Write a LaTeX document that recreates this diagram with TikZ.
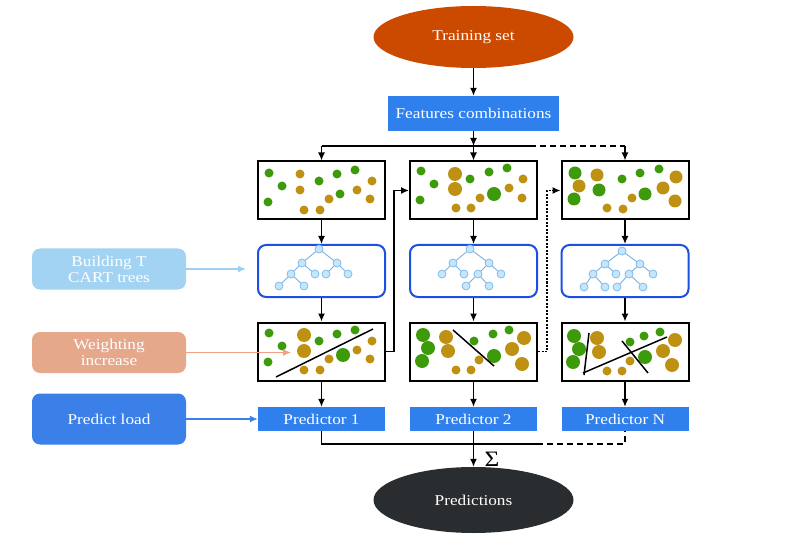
\documentclass[tikz,border=0pt]{standalone}
\usepackage{fontspec}
\setmainfont{Liberation Serif}[FakeStretch=1.15]
\usetikzlibrary{shapes.geometric,arrows.meta,calc}
\definecolor{tsorange}{HTML}{CC4A00}
\definecolor{mblue}{HTML}{2F80ED}
\definecolor{lblue}{HTML}{A3D3F3}
\definecolor{salmon}{HTML}{E6A88A}
\definecolor{darkell}{HTML}{2A2D2F}
\definecolor{treeframe}{HTML}{1E4FE0}
\definecolor{dgreen}{HTML}{3D9B0B}
\definecolor{dbrown}{HTML}{BF9112}
\definecolor{tnodefill}{HTML}{C5E6FC}
\definecolor{tnodeline}{HTML}{80BDEB}
\definecolor{tedge}{HTML}{7FB0E0}
\definecolor{arrlblue}{HTML}{9FD0F2}
\definecolor{arrsalmon}{HTML}{F2A080}
\definecolor{arrblue}{HTML}{3A80E8}
\tikzset{
  txt/.style={font=\fontsize{15}{16}\selectfont, text=white, align=center},
  ell/.style={ellipse, inner sep=0pt, minimum width=200pt, txt},
  bluebox/.style={rectangle, fill=mblue, inner sep=0pt, txt},
  sidebox/.style={rectangle, rounded corners=8pt, inner sep=0pt, minimum width=154pt, minimum height=41pt, txt},
  databox/.style={rectangle, draw=black, line width=2pt, inner sep=0pt, minimum width=127pt, minimum height=58pt},
  treebox/.style={rectangle, draw=treeframe, line width=2pt, rounded corners=8pt, inner sep=0pt, minimum width=127pt, minimum height=52pt},
  predbox/.style={bluebox, minimum width=127pt, minimum height=24pt},
  conn/.style={line width=1.4pt, draw=black},
  arr/.style={conn, -{Latex[length=8pt,width=7pt]}},
  longdash/.style={dash pattern=on 6pt off 4pt},
  shortdot/.style={dash pattern=on 2pt off 1.5pt},
  tedgestyle/.style={draw=tedge, line width=0.9pt},
  tnode/.style={fill=tnodefill, draw=tnodeline, line width=0.8pt},
  splitline/.style={draw=black, line width=1.5pt}
}
\newcommand{\gd}[2][4.5]{\fill[dgreen] #2 circle[radius=#1pt];}
\newcommand{\bd}[2][4.5]{\fill[dbrown] #2 circle[radius=#1pt];}
\newcommand{\tn}[1]{\filldraw[tnode] #1 circle[radius=4pt];}
\begin{document}
\begin{tikzpicture}[x=1pt,y=-1pt]
\useasboundingbox (0,0) rectangle (792,545);
\fill[white] (0,0) rectangle (792,545);

% main nodes
\node[ell, fill=tsorange, minimum height=62pt] (ts) at (473.5,37) {Training set};
\node[bluebox, minimum width=171pt, minimum height=35pt] (feat) at (473.5,113.5) {Features combinations};

\node[databox] (d1) at (321.5,190.5) {};
\node[databox] (d2) at (473.5,190.5) {};
\node[databox] (d3) at (625,190.5) {};

\node[treebox] (t1) at (321.5,271) {};
\node[treebox] (t2) at (473.5,271) {};
\node[treebox] (t3) at (625,271) {};

\node[databox] (w1) at (321.5,351.5) {};
\node[databox] (w2) at (473.5,351.5) {};
\node[databox] (w3) at (625,351.5) {};

\node[predbox] (p1) at (321.5,419) {Predictor 1};
\node[predbox] (p2) at (473.5,419) {Predictor 2};
\node[predbox] (p3) at (625,419) {Predictor N};

\node[ell, fill=darkell, minimum height=66pt] (pred) at (473.5,500) {Predictions};
\node[font=\fontsize{22}{22}\selectfont, inner sep=0pt] (sig) at (492,459) {Σ};

\node[sidebox, fill=lblue] (bt) at (109,269) {Building T\\CART trees};
\node[sidebox, fill=salmon] (wi) at (109,352.5) {Weighting\\increase};
\node[sidebox, fill=arrblue, minimum height=51pt] (pl) at (109,419) {Predict load};

% dots row 1
\foreach \p in {(269,173),(282,186),(319,181),(337,174),(355,170),(340,194),(268,202)} {\gd{\p}}
\foreach \p in {(300,174),(300,190),(372,181),(357,190),(329,199),(370,199),(304,210),(320,210)} {\bd{\p}}

\foreach \p in {(421,171),(434,184),(470,179),(489,172),(507,168),(420,200)} {\gd{\p}}
\gd[7]{(494,194)}
\foreach \p in {(455,174),(455,189)} {\bd[7]{\p}}
\foreach \p in {(523,179),(509,188),(480,198),(522,198),(456,208),(471,208)} {\bd{\p}}

\foreach \p in {(575,173),(599,190),(574,199),(645,194)} {\gd[6.5]{\p}}
\foreach \p in {(622,179),(640,173),(659,169)} {\gd{\p}}
\foreach \p in {(597,175),(579,186),(676,177),(663,188),(675,201)} {\bd[6.5]{\p}}
\foreach \p in {(632,198),(607,208),(623,209)} {\bd{\p}}

% dots row 3
\foreach \p in {(269,333),(282,346),(319,341),(337,334),(355,330),(268,362)} {\gd{\p}}
\gd[7]{(343,355)}
\foreach \p in {(304,335),(304,351)} {\bd[7]{\p}}
\foreach \p in {(372,341),(357,350),(329,359),(370,359),(304,370),(320,370)} {\bd{\p}}
\draw[splitline] (276,377) -- (373,329);

\foreach \p in {(423,335),(428,348),(422,361),(494,356)} {\gd[7]{\p}}
\foreach \p in {(474,341),(493,334),(509,330)} {\gd{\p}}
\foreach \p in {(446,337),(448,351),(524,338),(512,349),(522,364)} {\bd[7]{\p}}
\foreach \p in {(479,360),(456,370),(471,370)} {\bd{\p}}
\draw[splitline] (453,330) -- (494,366);

\foreach \p in {(574,336),(579,349),(573,362),(645,357)} {\gd[7]{\p}}
\foreach \p in {(630,342),(644,336),(660,332)} {\gd{\p}}
\foreach \p in {(597,338),(599,352),(675,340),(663,351),(672,365)} {\bd[7]{\p}}
\foreach \p in {(630,361),(607,371),(622,371)} {\bd{\p}}
\draw[splitline] (589,333) -- (584,375);
\draw[splitline] (583,373) -- (667,337);
\draw[splitline] (622,341) -- (648,373);

% trees
\draw[tedgestyle] (302,263) -- (319,249) -- (337,263);
\draw[tedgestyle] (291,274) -- (302,263) -- (315,274);
\draw[tedgestyle] (326,274) -- (337,263) -- (348,274);
\draw[tedgestyle] (279,286) -- (291,274) -- (304,286);
\foreach \p in {(319,249),(302,263),(337,263),(291,274),(315,274),(326,274),(348,274),(279,286),(304,286)} {\tn{\p}}

\draw[tedgestyle] (453,263) -- (470,249) -- (489,263);
\draw[tedgestyle] (442,274) -- (453,263) -- (464,274);
\draw[tedgestyle] (478,274) -- (489,263) -- (501,274);
\draw[tedgestyle] (466,286) -- (478,274) -- (489,286);
\foreach \p in {(470,249),(453,263),(489,263),(442,274),(464,274),(478,274),(501,274),(466,286),(489,286)} {\tn{\p}}

\draw[tedgestyle] (605,264) -- (622,251) -- (640,264);
\draw[tedgestyle] (593,274) -- (605,264) -- (616,274);
\draw[tedgestyle] (629,274) -- (640,264) -- (653,274);
\draw[tedgestyle] (584,287) -- (593,274) -- (605,287);
\draw[tedgestyle] (617,287) -- (629,274) -- (643,287);
\foreach \p in {(622,251),(605,264),(640,264),(593,274),(616,274),(629,274),(653,274),(584,287),(605,287),(617,287),(643,287)} {\tn{\p}}

% connectors
\coordinate (top1) at (321.5,146);
\coordinate (top2) at (473.5,146);
\coordinate (topd) at (530,146);
\coordinate (top3) at (625,146);
\draw[arr] (ts.south) -- (feat.north);
\draw[arr] (feat.south) -- (top2);
\draw[conn] (top1) -- (topd);
\draw[conn, longdash] (topd) -- (top3);
\draw[arr] (top1) -- (d1.north);
\draw[arr] (top2) -- (d2.north);
\draw[arr] (top3) -- (d3.north);

\foreach \i in {1,2,3} {
  \draw[arr] (d\i.south) -- (t\i.north);
  \draw[arr] (t\i.south) -- (w\i.north);
  \draw[arr] (w\i.south) -- (p\i.north);
}

\draw[arr] (w1.east) -- ++(8,0) |- (d2.west);
\draw[arr, shortdot] (w2.east) -- ++(9,0) |- (d3.west);

\coordinate (bd) at (537,444);
\draw[conn] (p1.south) |- (bd);
\draw[conn, longdash] (bd) -| (p3.south);
\draw[arr] (p2.south) -- (pred.north);

\draw[draw=arrlblue, line width=1.2pt, -{Latex[length=8pt,width=7pt]}] (bt.east) -- ($(bt.east -| t1.west)+(-11,0)$);
\draw[draw=arrsalmon, line width=1.2pt, -{Latex[length=8pt,width=7pt]}] (wi.east) -- ($(wi.east -| w1.west)+(34,0)$);
\draw[draw=arrblue, line width=1.2pt, -{Latex[length=8pt,width=7pt]}] (pl.east) -- (pl.east -| p1.west);
\end{tikzpicture}
\end{document}
